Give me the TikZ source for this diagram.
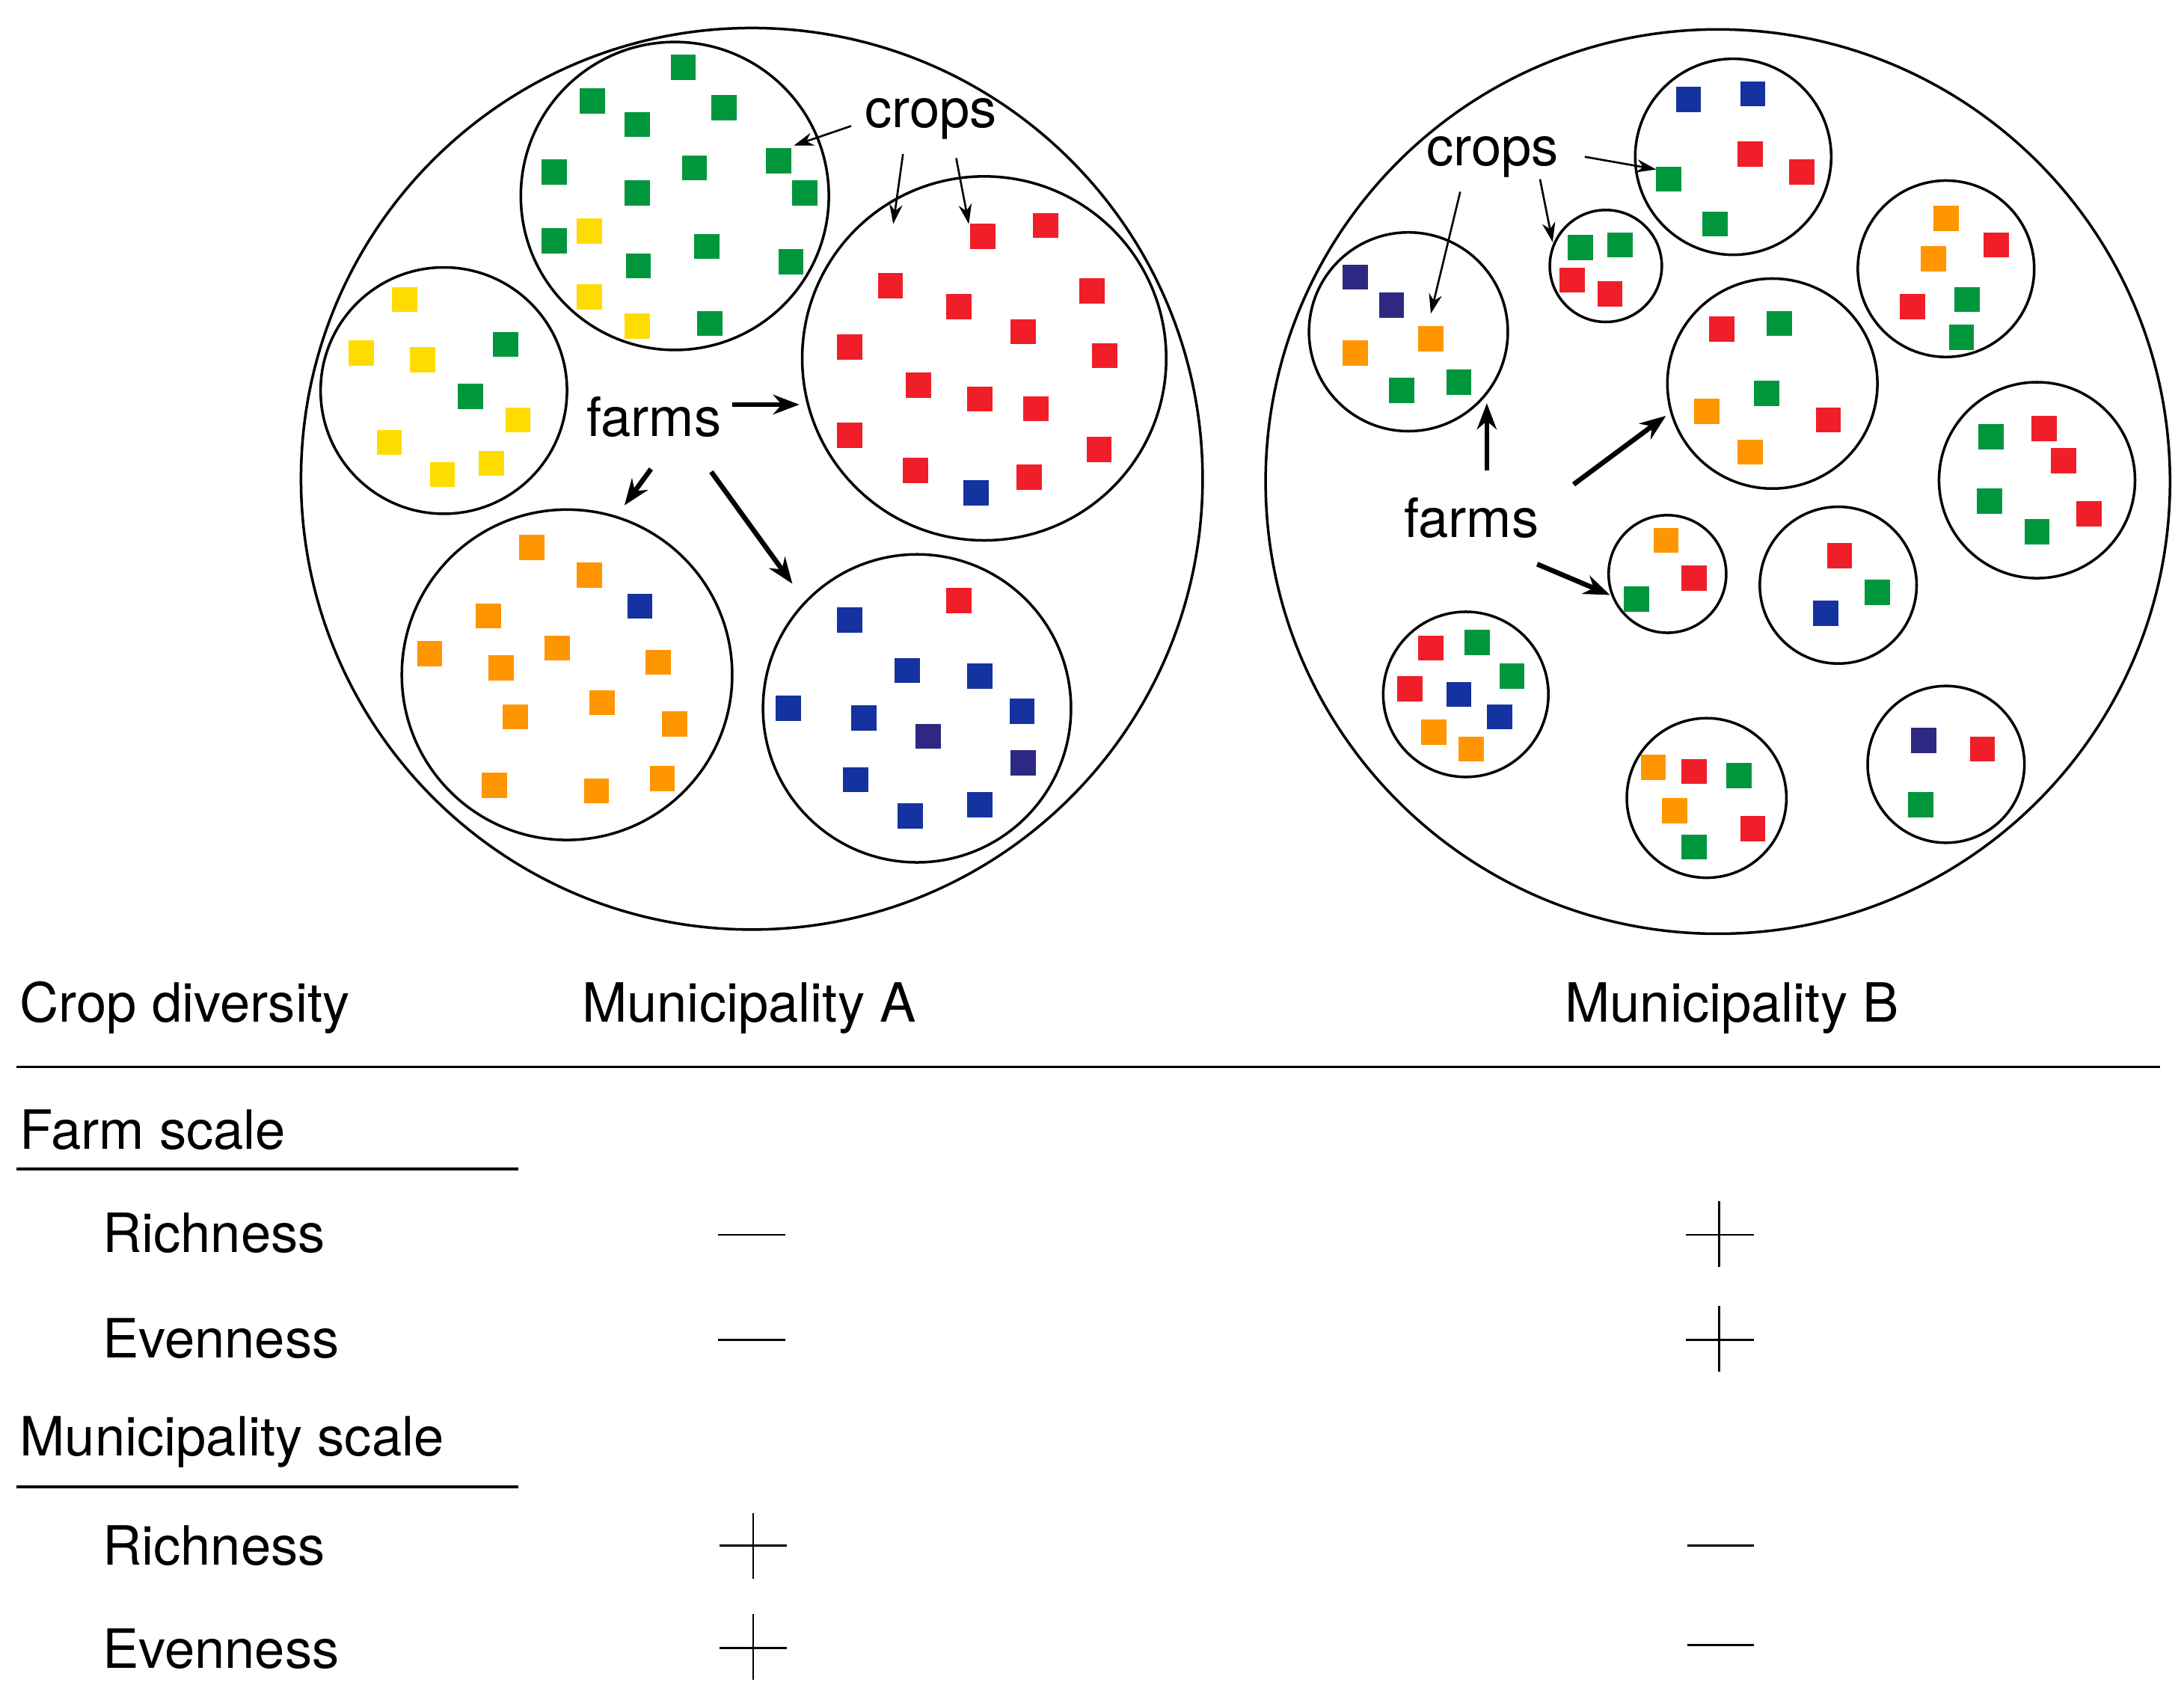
\documentclass[tikz,border=0pt]{standalone}
\usepackage{fontspec}
\setmainfont{TeX Gyre Heros}
\usetikzlibrary{arrows.meta}
\begin{document}
\begin{tikzpicture}[x=0.03cm,y=-0.03cm,
  circ/.style={draw=black,line width=1.6pt},
  lbl/.style={font=\fontsize{33}{38}\selectfont,inner sep=0pt},
  thin arr/.style={-{Stealth[length=12pt,width=8pt]},line width=1.2pt},
  thick arr/.style={-{Stealth[length=16pt,width=12pt]},line width=3pt},
  rule/.style={line width=1.6pt},
  sign/.style={line width=1.3pt}]
\definecolor{gr}{RGB}{0,150,60}
\definecolor{ye}{RGB}{255,220,0}
\definecolor{rd}{RGB}{240,30,40}
\definecolor{or}{RGB}{255,150,0}
\definecolor{bl}{RGB}{20,50,160}
\definecolor{nv}{RGB}{45,40,130}
\useasboundingbox (0,0) rectangle (1560,1214);
\newcommand{\sq}[2]{\foreach \x/\y in {#2} \fill[#1] (\x-9,\y-9) rectangle +(18,18);}
% Municipality A
\draw[circ] (537,342) circle (322);
\draw[circ] (482,140) circle (110);
\draw[circ] (317,279) circle (88);
\draw[circ] (703,256) circle (130);
\draw[circ] (405,482) circle (118);
\draw[circ] (655,506) circle (110);
\sq{gr}{488/48,423/72,517/77,455/89,396/123,496/120,556/115,575/138,455/138,396/172,456/190,505/176,565/187,507/231,361/246,336/283}
\sq{ye}{421/165,421/212,455/233,289/214,258/252,302/257,370/300,278/316,316/339,351/331}
\sq{rd}{702/169,747/161,636/204,685/219,780/208,731/237,607/248,789/254,656/275,700/285,740/292,607/311,785/321,654/336,735/341,685/429}
\sq{bl}{697/352,457/433,607/443,648/479,700/483,563/506,617/513,730/508,611/557,650/583,700/575}
\sq{nv}{663/526,731/545}
\sq{or}{380/391,421/411,349/440,398/463,307/467,358/477,470/473,430/502,368/512,482/517,353/561,426/565,473/556}
\node[lbl] (cropsA) at (665,85) {crops};
\node[lbl] (farmsA) at (467,298) {farms};
\coordinate (a1) at (567,104); \coordinate (a2) at (638,160); \coordinate (a3) at (692,160);
\draw[thin arr] (608,90) -- (a1);
\draw[thin arr] (645,110) -- (a2);
\draw[thin arr] (683,113) -- (a3);
\coordinate (b1) at (571,289); \coordinate (b2) at (446,361); \coordinate (b3) at (566,417);
\draw[thick arr] (523,289) -- (b1);
\draw[thick arr] (465,335) -- (b2);
\draw[thick arr] (508,337) -- (b3);
% Municipality B
\draw[circ] (1227,344) circle (323);
\foreach \cx/\cy/\r in {1006/237/71,1147/190/40,1238/112/70,1390/192/63,1266/274/75,1455/343/70,1191/410/42,1313/418/56,1047/496/59,1219/570/57,1390/546/56}
  \draw[circ] (\cx,\cy) circle (\r);
\sq{nv}{968/198,994/218,1374/529}
\sq{or}{1022/242,968/252,1390/156,1381/185,1219/294,1250/323,1190/386,1024/523,1051/535,1181/548,1196/579}
\sq{gr}{1001/279,1042/273,1129/177,1157/175,1192/128,1225/160,1405/214,1401/241,1271/231,1262/281,1422/312,1421/358,1455/380,1169/428,1341/423,1055/459,1080/483,1242/554,1210/605,1372/575}
\sq{rd}{1123/200,1150/210,1250/110,1287/123,1426/175,1366/219,1230/235,1306/300,1460/306,1474/329,1492/367,1210/413,1314/397,1022/463,1007/492,1210/551,1252/592,1416/535}
\sq{bl}{1206/71,1252/67,1304/438,1042/496,1071/512}
\node[lbl] (cropsB) at (1066,112) {crops};
\node[lbl] (farmsB) at (1051,370) {farms};
\coordinate (c1) at (1183,121); \coordinate (c2) at (1109,173); \coordinate (c3) at (1022,224);
\draw[thin arr] (1132,112) -- (c1);
\draw[thin arr] (1100,128) -- (c2);
\draw[thin arr] (1043,137) -- (c3);
\coordinate (d1) at (1062,288); \coordinate (d2) at (1190,297); \coordinate (d3) at (1150,425);
\draw[thick arr] (1062,336) -- (d1);
\draw[thick arr] (1124,346) -- (d2);
\draw[thick arr] (1098,403) -- (d3);
% Table
\node[lbl,anchor=west] (cd) at (14,720) {Crop diversity};
\node[lbl] (ma) at (535,720) {Municipality A};
\node[lbl] (mb) at (1237,720) {Municipality B};
\draw[rule] (12,762) -- (1543,762);
\node[lbl,anchor=west] (fs) at (14,807) {Farm scale};
\draw[rule] (12,835) -- (370,835);
\node[lbl,anchor=west] (r1) at (73,881) {Richness};
\node[lbl,anchor=west] (e1) at (73,956) {Evenness};
\node[lbl,anchor=west] (ms) at (14,1030) {Municipality scale};
\draw[rule] (12,1062) -- (370,1062);
\node[lbl,anchor=west] (r2) at (73,1104) {Richness};
\node[lbl,anchor=west] (e2) at (73,1178) {Evenness};
\draw[sign] (513,882) -- (561,882);
\draw[sign] (513,957) -- (561,957);
\draw[sign] (1204,882) -- (1253,882); \draw[sign] (1228,858) -- (1228,905);
\draw[sign] (1204,957) -- (1253,957); \draw[sign] (1228,933) -- (1228,980);
\draw[sign] (514,1104) -- (562,1104); \draw[sign] (538,1081) -- (538,1128);
\draw[sign] (514,1177) -- (562,1177); \draw[sign] (538,1153) -- (538,1200);
\draw[sign] (1205,1104) -- (1253,1104);
\draw[sign] (1205,1175) -- (1253,1175);
\end{tikzpicture}
\end{document}
